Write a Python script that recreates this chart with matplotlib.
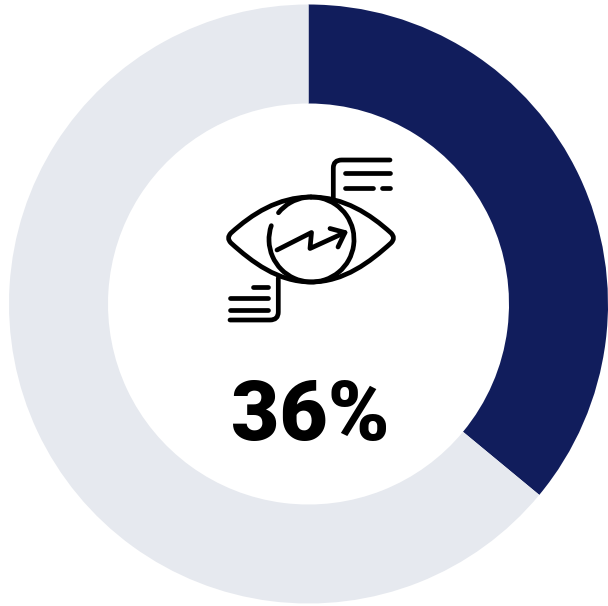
import matplotlib
matplotlib.use("Agg")
import matplotlib.pyplot as plt
from matplotlib.path import Path
from matplotlib.patches import PathPatch, Arc

shares = [36, 64]
colors = ["#111D5C", "#E6E9EF"]
label = "36%"

W, H = 608, 606
fig = plt.figure(figsize=(W / 100, H / 100), dpi=100)
ax = fig.add_axes([0, 0, 1, 1])

cx, cy, R = 308.5, H - 304, 299.5
ax.pie(shares, colors=colors, startangle=90, counterclock=False, center=(cx, cy), radius=R,
       wedgeprops=dict(width=R - 200.5, linewidth=0), frame=True)
ax.set_xlim(0, W)
ax.set_ylim(0, H)
ax.set_aspect("equal")
ax.axis("off")

ax.text(310, H - 440, label, ha="center", va="baseline", fontsize=60, fontweight="black",
        family="Roboto", color="black")

# icon, in picture pixels (y down)
lw = 3.4
style = dict(fill=False, edgecolor="black", linewidth=lw, capstyle="round", joinstyle="round")

def stroke(verts, codes=None):
    verts = [(x, H - y) for x, y in verts]
    ax.add_patch(PathPatch(Path(verts, codes), **style))

C = Path.CURVE4
M = Path.MOVETO
L = Path.LINETO
Q = Path.CURVE3

# eye outline
stroke([(311, 197), (278, 197), (252, 214), (231, 233), (226, 238), (231, 243),
        (252, 262), (278, 282), (311, 282), (344, 282), (370, 262), (391, 243),
        (396, 238), (391, 233), (370, 214), (344, 197), (311, 197)],
       [M, C, C, C, Q, Q, C, C, C, C, C, C, Q, Q, C, C, C])

# iris, with a gap upper left
ax.add_patch(Arc((311.5, H - 239.5), 85, 85, theta1=161, theta2=141 + 360,
                 edgecolor="black", linewidth=lw, capstyle="round"))

# arrow
stroke([(277, 250), (311.5, 232.5), (310, 248.5), (345, 232.5)])
stroke([(330, 228.5), (345, 232.5), (338, 247)])

# upper note
stroke([(333.3, 198), (333.3, 168), (333.3, 160), (341.7, 160), (390, 160)], [M, L, Q, Q, L])
stroke([(345, 173.3), (390, 173.3)])
stroke([(345, 188.3), (373, 188.3)])
stroke([(382, 188.3), (390, 188.3)])

# lower note
stroke([(278.3, 278), (278.3, 312), (278.3, 320), (270, 320), (230, 320)], [M, L, Q, Q, L])
stroke([(230, 310), (268, 310)])
stroke([(230, 298.3), (268, 298.3)])
stroke([(253, 286.7), (268, 286.7)])

fig.savefig("out.png", dpi=100, facecolor="white")
